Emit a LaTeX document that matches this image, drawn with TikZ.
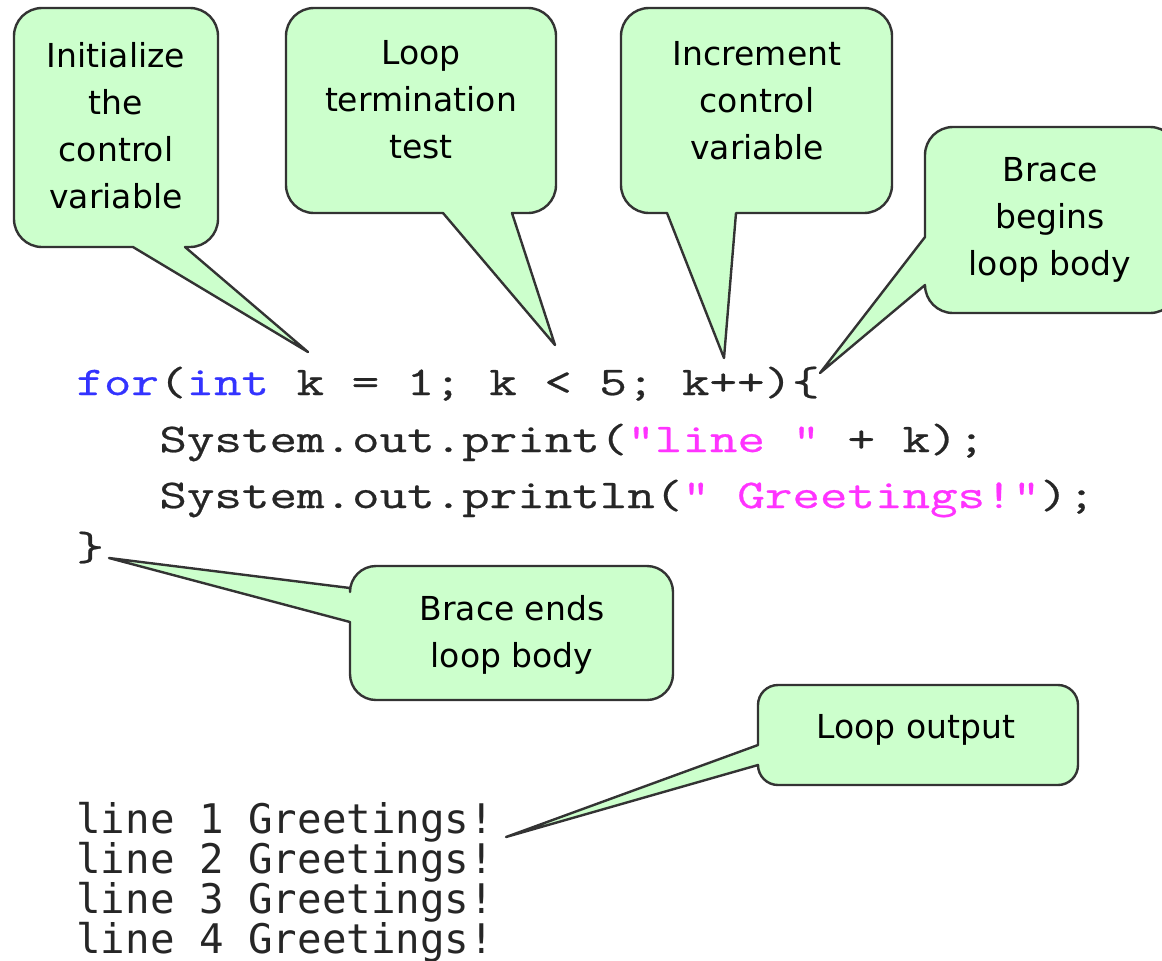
\documentclass[tikz,border=0pt]{standalone}
\usepackage{fontspec}
\setmainfont{DejaVu Sans}
\newfontfamily\codefont[FakeStretch=1.31,FakeBold=0.6]{Latin Modern Mono}
\newfontfamily\outfont{DejaVu Sans Mono}
\definecolor{bubblefill}{HTML}{CCFFCC}
\definecolor{bubbleline}{HTML}{333333}
\definecolor{kwblue}{HTML}{3333FF}
\definecolor{strpink}{HTML}{FF33FF}
\definecolor{codegray}{HTML}{262626}
\begin{document}
\begin{tikzpicture}[x=0.5pt,y=0.5pt,yscale=-1,
  bubble/.style={fill=bubblefill,draw=bubbleline,line width=1.2pt,line join=round},
  calltext/.style={align=center,inner sep=0pt,text=black,font=\fontsize{16.5}{23.5}\selectfont},
  codeline/.style={anchor=base west,inner sep=0pt,text=codegray,font=\codefont\fontsize{20.4}{27.5}\selectfont\frenchspacing},
  outputline/.style={anchor=base west,inner sep=0pt,text=codegray,font=\outfont\fontsize{20.4}{20}\selectfont\frenchspacing}]
\useasboundingbox (0,0) rectangle (1162,960);

% callout 1: Initialize the control variable
\draw[bubble] (133,247) -- (42,247) arc[start angle=90,end angle=180,radius=28]
  -- (14,36) arc[start angle=180,end angle=270,radius=28]
  -- (190,8) arc[start angle=270,end angle=360,radius=28]
  -- (218,219) arc[start angle=0,end angle=90,radius=28]
  -- (185,247) -- (308,352) -- cycle;
% callout 2: Loop termination test
\draw[bubble] (443,213) -- (314,213) arc[start angle=90,end angle=180,radius=28]
  -- (286,36) arc[start angle=180,end angle=270,radius=28]
  -- (528,8) arc[start angle=270,end angle=360,radius=28]
  -- (556,185) arc[start angle=0,end angle=90,radius=28]
  -- (512,213) -- (555,345) -- cycle;
% callout 3: Increment control variable
\draw[bubble] (667,213) -- (649,213) arc[start angle=90,end angle=180,radius=28]
  -- (621,36) arc[start angle=180,end angle=270,radius=28]
  -- (864,8) arc[start angle=270,end angle=360,radius=28]
  -- (892,185) arc[start angle=0,end angle=90,radius=28]
  -- (736,213) -- (724,358) -- cycle;
% callout 4: Brace begins loop body (runs past the right edge)
\draw[bubble] (925,237) -- (925,155) arc[start angle=180,end angle=270,radius=28]
  -- (1150,127) arc[start angle=270,end angle=360,radius=28]
  -- (1178,285) arc[start angle=0,end angle=90,radius=28]
  -- (953,313) arc[start angle=90,end angle=180,radius=28]
  -- (820,373) -- cycle;
% callout 5: Brace ends loop body
\draw[bubble] (350,622) -- (350,674) arc[start angle=180,end angle=90,radius=26]
  -- (647,700) arc[start angle=90,end angle=0,radius=26]
  -- (673,592) arc[start angle=0,end angle=-90,radius=26]
  -- (376,566) arc[start angle=-90,end angle=-180,radius=26]
  -- (350,588) -- (109,558) -- cycle;
% callout 6: Loop output
\draw[bubble] (758,745) -- (758,705) arc[start angle=180,end angle=270,radius=20]
  -- (1058,685) arc[start angle=270,end angle=360,radius=20]
  -- (1078,765) arc[start angle=0,end angle=90,radius=20]
  -- (778,785) arc[start angle=90,end angle=180,radius=20]
  -- (506,837) -- cycle;

% callout texts
\node[calltext] (tinit) at (116,125.5) {Initialize\\the\\control\\variable};
\node[calltext] (ttest) at (421,100) {Loop\\termination\\test};
\node[calltext] (tincr) at (757,101) {Increment\\control\\variable};
\node[calltext] (tbegin) at (1050,220) {Brace\\begins\\loop body};
\node[calltext] (tend) at (512,635) {Brace ends\\loop body};
\node[calltext,anchor=base] (tout) at (916,738) {Loop output};

% code
\node[codeline] (c1) at (76,395) {\textcolor{kwblue}{for}(\textcolor{kwblue}{int} k = 1; k < 5; k++)\{};
\node[codeline] (c2) at (159,452) {System.out.print(\textcolor{strpink}{"line "} + k);};
\node[codeline] (c3) at (159,508) {System.out.println(\textcolor{strpink}{" Greetings!"});};
\node[codeline] (c4) at (76,560) {\}};

% output
\node[outputline] (o1) at (76,833) {line 1 Greetings!};
\node[outputline] (o2) at (76,873) {line 2 Greetings!};
\node[outputline] (o3) at (76,913) {line 3 Greetings!};
\node[outputline] (o4) at (76,953) {line 4 Greetings!};
\end{tikzpicture}
\end{document}
